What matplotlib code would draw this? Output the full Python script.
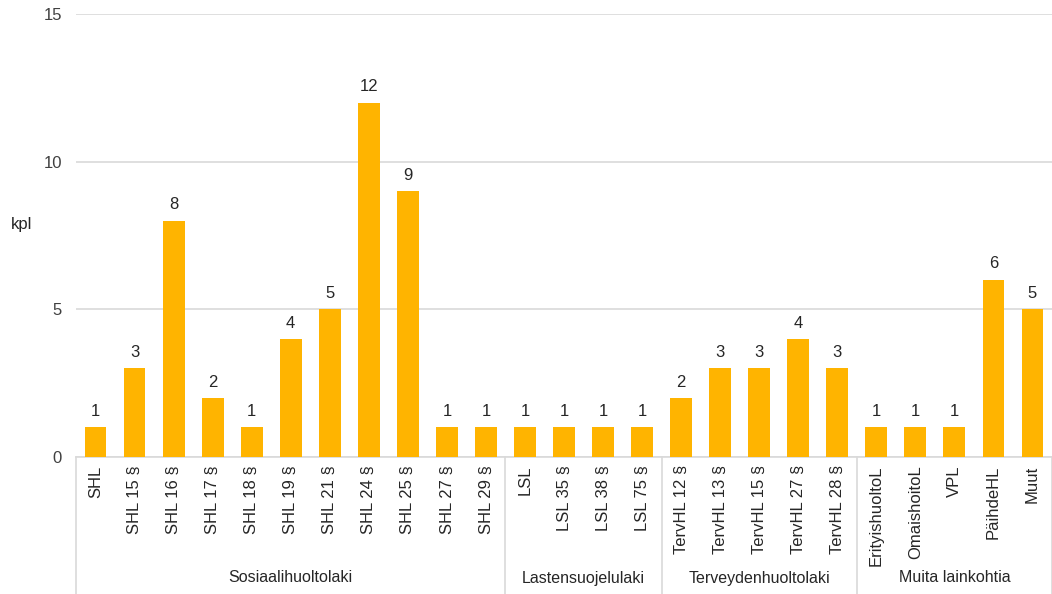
#!/usr/bin/env python3
"""Pylväskaavio: lainkohdat ryhmittäin (kpl)."""

import matplotlib
matplotlib.use("Agg")
import matplotlib.pyplot as plt

plt.rcParams["font.family"] = ["Liberation Sans", "DejaVu Sans"]

# ryhmät ja niiden kategoriat
groups = ["Sosiaalihuoltolaki", "Lastensuojelulaki", "Terveydenhuoltolaki", "Muita lainkohtia"]
sosiaali_labels = ["SHL", "SHL 15 §", "SHL 16 §", "SHL 17 §", "SHL 18 §", "SHL 19 §",
                   "SHL 21 §", "SHL 24 §", "SHL 25 §", "SHL 27 §", "SHL 29 §"]
sosiaali_values = [1, 3, 8, 2, 1, 4, 5, 12, 9, 1, 1]
lasten_labels = ["LSL", "LSL 35 §", "LSL 38 §", "LSL 75 §"]
lasten_values = [1, 1, 1, 1]
terv_labels = ["TervHL 12 §", "TervHL 13 §", "TervHL 15 §", "TervHL 27 §", "TervHL 28 §"]
terv_values = [2, 3, 3, 4, 3]
muut_labels = ["ErityishuoltoL", "OmaishoitoL", "VPL", "PäihdeHL", "Muut"]
muut_values = [1, 1, 1, 6, 5]

group_labels = [sosiaali_labels, lasten_labels, terv_labels, muut_labels]
group_values = [sosiaali_values, lasten_values, terv_values, muut_values]

BAR = "#FFB400"
GRID = "#D9D9D9"
TEXT = "#404040"
FS = 12

labels = [l for g in group_labels for l in g]
values = [v for g in group_values for v in g]
x = list(range(len(values)))

W, H = 1052, 594
fig = plt.figure(figsize=(W / 100, H / 100), dpi=100)
left, right, top, bottom = 76, 1052, 14, 457
ax = fig.add_axes([left / W, 1 - bottom / H, (right - left) / W, (bottom - top) / H])

ax.bar(x, values, width=0.56, color=BAR, zorder=3)
for xi, v in zip(x, values):
    ax.annotate(str(v), (xi, v), xytext=(0, 6), textcoords="offset points",
                ha="center", va="bottom", fontsize=FS, color="#262626")

ax.set_xlim(-0.5, len(values) - 0.5)
ax.set_ylim(0, 15)
ax.set_yticks([0, 5, 10, 15])
ax.yaxis.grid(True, color=GRID, linewidth=1.2, zorder=0)
for s in ["top", "right", "left"]:
    ax.spines[s].set_visible(False)
ax.spines["bottom"].set_color(GRID)
ax.spines["bottom"].set_linewidth(1.2)
ax.tick_params(axis="y", length=0, pad=10, labelsize=FS, labelcolor=TEXT)
ax.set_xticks(x)
ax.set_xticklabels(labels, rotation=90, fontsize=FS, color="#262626")
ax.tick_params(axis="x", length=0, pad=6)

fig.text(11 / W, 1 - 225 / H, "kpl", fontsize=FS, color="#262626", ha="left", va="center")

# ryhmien erottimet ja nimet
trans = ax.get_xaxis_transform()
y_bottom = -(H - bottom) / (bottom - top)
y_group = -(578 - bottom) / (bottom - top)
start = 0
bounds = [-0.5]
for name, g in zip(groups, group_labels):
    end = start + len(g)
    bounds.append(end - 0.5)
    ax.text((start + end - 1) / 2, y_group, name, transform=trans, ha="center",
            va="center", fontsize=11.5, color="#262626")
    start = end
for b in bounds:
    ax.plot([b, b], [0, y_bottom], transform=trans, color=GRID, linewidth=1.2,
            clip_on=False)

fig.savefig("out.png", dpi=100)
